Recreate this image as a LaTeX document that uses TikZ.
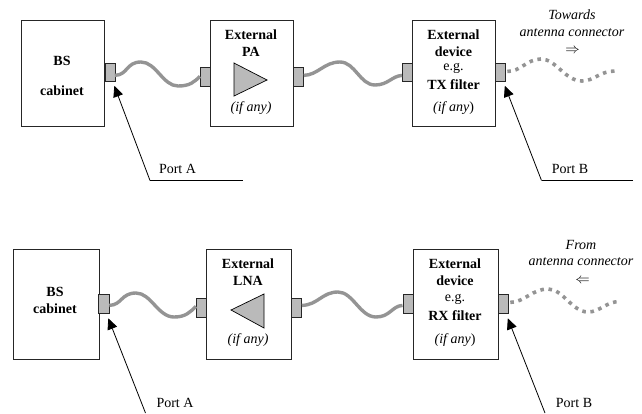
\documentclass[tikz,border=0pt]{standalone}
\usepackage{fontspec}
\setmainfont{Liberation Serif}
\usetikzlibrary{arrows.meta,calc}
\tikzset{
  box/.style={draw=black!85,line width=0.9pt,fill=white,anchor=north west,inner sep=0pt},
  portbox/.style={draw=black!85,line width=0.8pt,fill=black!27,inner sep=0pt,anchor=north west},
  txt/.style={font=\fontsize{14}{14}\selectfont,inner sep=0pt,align=center},
  cable/.style={draw=black!42,line width=3.4pt},
  dotcable/.style={draw=black!42,line width=3.6pt,dash pattern=on 3.6pt off 4.6pt},
  amp/.style={draw=black,line width=0.7pt,fill=black!27,line join=miter},
  lead/.style={draw=black,line width=0.8pt,-{Triangle[length=11pt,width=10pt]}},
  shelf/.style={draw=black,line width=0.8pt},
}
\newcommand{\bx}[5]{\node[box,minimum width=#3pt,minimum height=#4pt] (#5) at (#1,#2) {};}
\newcommand{\pt}[5]{\node[portbox,minimum width=#3pt,minimum height=#4pt] (#5) at (#1,#2) {};}
\newcommand{\arw}[1]{\raisebox{-3.2pt}[3pt][3pt]{$#1$}}
\begin{document}
\begin{tikzpicture}[x=1pt,y=-1pt]
\useasboundingbox (0,0) rectangle (642,413);
% top row
\bx{21}{20}{83}{106}{bs1}
\bx{210}{20}{83}{106}{pa}
\bx{412}{20}{83}{106}{dev1}
\pt{104.5}{63}{10}{18}{p1a}
\pt{200}{67}{10}{19}{p1b}
\pt{293}{67}{10}{19}{p1c}
\pt{402}{63}{10}{18}{p1d}
\pt{495}{63}{10}{18}{p1e}
\coordinate (e1) at (615,71);
\path[cable] ($(p1a.east)+(-0.5,3)$) .. controls (128,75) and (126,62) .. (141,62) .. controls (156,62) and (163,86) .. (178,86) .. controls (190,86) and (194,82) .. ($(p1b.west)+(0,-0.5)$);
\path[cable] ($(p1c.east)+(0,-1.5)$) .. controls (318,75) and (324,62) .. (340,62) .. controls (355,62) and (360,85) .. (375,85) .. controls (388,85) and (392,76) .. ($(p1d.west)+(0,3)$);
\path[dotcable] ($(p1e.east)+(1.5,-1)$) .. controls (520,72) and (527,59) .. (541,59) .. controls (556,59) and (565,81) .. (582,81) .. controls (594,81) and (600,71) .. (e1);
\draw[amp] (234,63) -- (267,80) -- (234,96) -- cycle;
\node[txt] (t1) at (62,61) {\textbf{BS}};
\node[txt] (t2) at (62,90.5) {\textbf{cabinet}};
\node[txt] (t3) at (251,35) {\textbf{External}};
\node[txt] (t4) at (251,52) {\textbf{PA}};
\node[txt] (t5) at (251,108) {\textit{(if any)}};
\node[txt] (t6) at (453.5,35) {\textbf{External}};
\node[txt] (t7) at (453.5,52) {\textbf{device}};
\node[txt] (t8) at (453.5,68) {e.g.};
\node[txt] (t9) at (453.5,85) {\textbf{TX filter}};
\node[txt] (t10) at (453.5,108) {\textit{(if any})};
\node[txt] (t11) at (572,15) {\textit{Towards}};
\node[txt] (t12) at (572,33) {\textit{antenna connector}};
\node[txt] (t13) at (572.5,50.5) {\arw{\Rightarrow}};
\node[txt] (t14) at (177.5,169) {Port A};
\node[txt] (t15) at (570,169) {Port B};
\coordinate (a1) at (150,180.5);
\coordinate (a1e) at (242.5,180.5);
\coordinate (b1) at (541.5,180.5);
\coordinate (b1e) at (633,180.5);
\draw[shelf] (a1e) -- (a1);
\draw[lead] (a1) -- ($(p1a.south east)+(-1,4)$);
\draw[shelf] (b1e) -- (b1);
\draw[lead] (b1) -- ($(p1e.south east)+(-1,4)$);
% bottom row
\bx{13}{249}{85.5}{110}{bs2}
\bx{206}{249}{85}{110}{lna}
\bx{412.5}{249}{85}{110}{dev2}
\pt{98}{293.5}{10.5}{19}{p2a}
\pt{196}{298}{10}{19}{p2b}
\pt{291}{298}{10}{19}{p2c}
\pt{402.5}{293.5}{10}{19}{p2d}
\pt{497.5}{293.5}{10.5}{19}{p2e}
\coordinate (e2) at (620,301.5);
\path[cable] ($(p2a.east)+(0,2)$) .. controls (122,305) and (121,293) .. (136,293) .. controls (151,293) and (158,317) .. (174,317) .. controls (186,317) and (190,312) .. ($(p2b.west)+(0,-1.5)$);
\path[cable] ($(p2c.east)+(0,-2.5)$) .. controls (318,305) and (322,292) .. (338,292) .. controls (353,292) and (360,317) .. (376,317) .. controls (390,317) and (392,306) .. ($(p2d.west)+(0,2)$);
\path[dotcable] ($(p2e.east)+(1.5,-1)$) .. controls (525,302) and (532,289) .. (548,289) .. controls (563,289) and (572,312) .. (588,312) .. controls (600,312) and (606,301.5) .. (e2);
\draw[amp] (231,310) -- (264,294) -- (264,328) -- cycle;
\node[txt] (t16) at (55,292) {\textbf{BS}};
\node[txt] (t17) at (55,309) {\textbf{cabinet}};
\node[txt] (t18) at (248,264) {\textbf{External}};
\node[txt] (t19) at (248,281) {\textbf{LNA}};
\node[txt] (t20) at (248,340) {\textit{(if any)}};
\node[txt] (t21) at (455,264) {\textbf{External}};
\node[txt] (t22) at (455,281) {\textbf{device}};
\node[txt] (t23) at (455,299) {e.g.};
\node[txt] (t24) at (455,315.5) {\textbf{RX filter}};
\node[txt] (t25) at (455,340) {\textit{(if any})};
\node[txt] (t26) at (581,244.5) {\textit{From}};
\node[txt] (t27) at (581,262) {\textit{antenna connector}};
\node[txt] (t28) at (582.5,280) {\arw{\Leftarrow}};
\node[txt] (t29) at (175,403) {Port A};
\node[txt] (t30) at (574,403) {Port B};
\coordinate (a2) at (145.5,413);
\coordinate (b2) at (545,413);
\draw[lead] (a2) -- ($(p2a.south east)+(-1,5)$);
\draw[lead] (b2) -- ($(p2e.south east)+(-1,5)$);
\end{tikzpicture}
\end{document}
